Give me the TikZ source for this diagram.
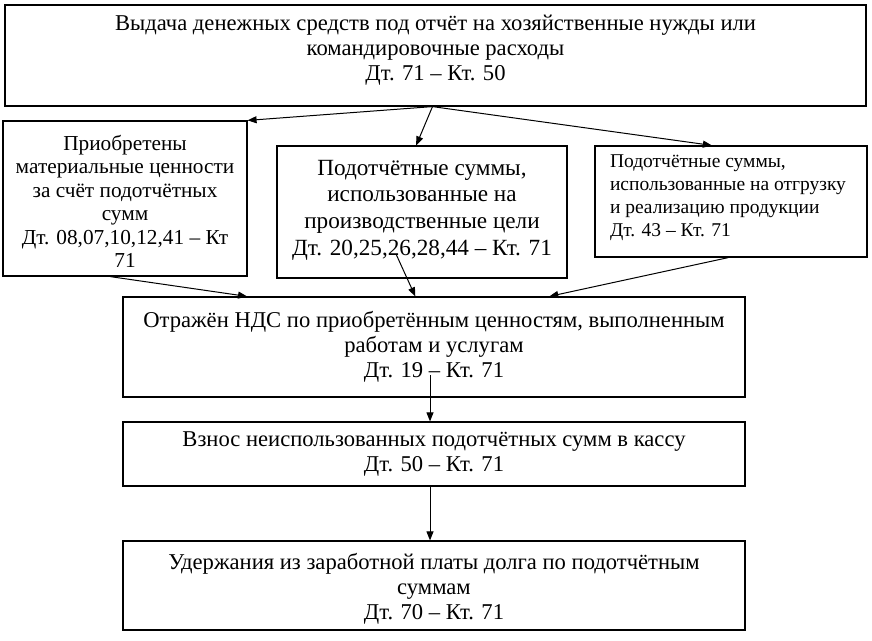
\documentclass[tikz,border=0pt]{standalone}
\usepackage{fontspec}
\setmainfont{Liberation Serif}
\usetikzlibrary{arrows.meta,calc}
\begin{document}
\begin{tikzpicture}[x=1pt,y=-1pt,
  box/.style={draw,line width=1.2pt,inner sep=0pt,align=center,
    font=\fontsize{22.6}{25}\selectfont},
  boxtext/.style={inner sep=0pt,align=center,font=\fontsize{22.6}{25}\selectfont},
  arr/.style={line width=1pt,-{Triangle[length=9pt,width=7pt]}}]
\useasboundingbox (0,0) rectangle (872,640);
\fill[white] (0,0) rectangle (872,640);
\node[box,minimum width=861pt,minimum height=101pt] (top) at (435.5,55.5)
  {Выдача денежных средств под отчёт на хозяйственные нужды или\\
   командировочные расходы\\ Дт. 71 – Кт. 50\\[-9pt]\mbox{}};
\node[box,minimum width=244pt,minimum height=155pt] (b1) at (125,198.5) {};
\node[boxtext,font=\fontsize{21.3}{23.5}\selectfont] (t1) at ([yshift=-3pt]b1.center)
  {Приобретены\\ материальные ценности\\ за счёт подотчётных\\ сумм\\
   Дт. 08,07,10,12,41 – Кт\\ 71};
\node[box,minimum width=290pt,minimum height=132pt,font=\fontsize{23.2}{26.7}\selectfont] (b2) at (422,212)
  {Подотчётные суммы,\\ использованные на\\ производственные цели\\
   Дт. 20,25,26,28,44 – Кт. 71\\[-18pt]\mbox{}};
\node[box,minimum width=272pt,minimum height=111pt,align=left,
  font=\fontsize{19.5}{23}\selectfont] (b3) at (731,201.5)
  {\hspace*{13pt}\parbox{255pt}{\raggedright Подотчётные суммы,\\ использованные на отгрузку\\
   и реализацию продукции\\ Дт. 43 – Кт. 71\par\vspace{8pt}}};
\node[box,minimum width=622pt,minimum height=100pt] (b4) at (434,347)
  {Отражён НДС по приобретённым ценностям, выполненным\\
   работам и услугам\\ Дт. 19 – Кт. 71};
\node[box,minimum width=622pt,minimum height=64pt] (b5) at (434,454)
  {Взнос неиспользованных подотчётных сумм в кассу\\ Дт. 50 – Кт. 71};
\node[box,minimum width=622pt,minimum height=89pt] (b6) at (434,585.5) {};
\node[boxtext] (t6) at ([yshift=-3pt]b6.center)
  {Удержания из заработной платы долга по подотчётным\\
   суммам\\ Дт. 70 – Кт. 71};
\coordinate (src) at ($(top.south west)!0.4965!(top.south east)$);
\draw[arr] (src) -- (b1.north east);
\draw[arr] (src) -- ($(b2.north west)!0.48!(b2.north east)$);
\draw[arr] (src) -- ($(b3.north west)!0.43!(b3.north east)$);
\coordinate (b1s) at ($(b1.south west)!0.44!(b1.south east)$);
\draw[arr] (b1s) -- ($(b4.north west)!0.2!(b4.north east)$);
\coordinate (b2s) at (396,254);
\draw[arr] (b2s) -- ($(b4.north west)!0.47!(b4.north east)$);
\coordinate (b3s) at ($(b3.south west)!0.49!(b3.south east)$);
\draw[arr] (b3s) -- ($(b4.north west)!0.685!(b4.north east)$);
\coordinate (b4s) at (430,375);
\draw[arr] (b4s) -- (b4s |- b5.north);
\draw[arr] (b5.south -| b4s) -- (b4s |- b6.north);
\end{tikzpicture}
\end{document}
